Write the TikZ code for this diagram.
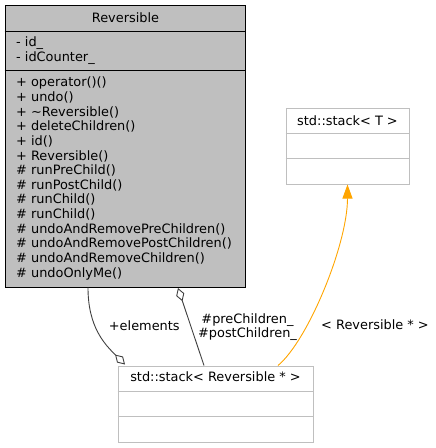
\documentclass[tikz,border=0pt]{standalone}
\usepackage{fontspec}
\setmainfont{DejaVu Sans}
\usetikzlibrary{arrows.meta,positioning}
\definecolor{revgray}{RGB}{191,191,191}
\definecolor{boxgray}{RGB}{191,191,191}
\definecolor{edgegray}{RGB}{64,64,64}
\definecolor{inhorange}{RGB}{255,165,0}
\newcommand{\dvfont}{\fontsize{12.9}{14.66}\selectfont}

\begin{document}
\begin{tikzpicture}[x=1pt,y=-1pt]
        \tikzset{cls/.style= {draw=boxgray, fill=white, rectangle, inner sep=0pt, line width=1pt},
        rcls/.style= {cls, draw=black, fill=revgray},
        member/.style={anchor=base west, inner sep=0pt, font=\dvfont},
        head/.style={anchor=base, inner sep=0pt, font=\dvfont},
        elabel/.style={inner sep=0pt, align=center, font=\dvfont},
        link/.style={draw=edgegray, line width=0.9pt},
        hollow/.style={-{Diamond[open, length=14pt, width=8.5pt]}},
        }
        \useasboundingbox (0,0) rectangle (436,448);
        \node [rcls, minimum width=240pt, minimum height=282pt] (rev) at (125,146) {};
        \node [cls, minimum width=123pt, minimum height=76pt] (stackT) at (347.5,146) {};
        \node [cls, minimum width=195pt, minimum height=76pt] (stackR) at (215.5,404) {};
%%% compartments
        \draw[line width=1pt] ([yshift=-26.5pt]rev.north west) -- ([yshift=-26.5pt]rev.north east)
                    ([yshift=-65.5pt]rev.north west) -- ([yshift=-65.5pt]rev.north east);
        \draw[boxgray, line width=1pt] ([yshift=-25.5pt]stackT.north west) -- ([yshift=-25.5pt]stackT.north east)
                    ([yshift=-50.5pt]stackT.north west) -- ([yshift=-50.5pt]stackT.north east)
                    ([yshift=-25.5pt]stackR.north west) -- ([yshift=-25.5pt]stackR.north east)
                    ([yshift=-50.5pt]stackR.north west) -- ([yshift=-50.5pt]stackR.north east);
%%% texts
        \node [head] (rev_name) at (125.5,22) {Reversible};
        \node [head] (stackT_name) at (347.5,125) {std::stack< T >};
        \node [head] (stackR_name) at (215.5,381) {std::stack< Reversible * >};
        \foreach \m [count=\i from 0] in {- id\_, - idCounter\_}
            \node [member] (attr\i) at (16,{46.7+14.66*\i}) {\m};
        \foreach \m [count=\i from 0] in {+ operator()(), + undo(), + \textasciitilde Reversible(),
            + deleteChildren(), + id(), + Reversible(), \# runPreChild(), \# runPostChild(),
            \# runChild(), \# runChild(), \# undoAndRemovePreChildren(),
            \# undoAndRemovePostChildren(), \# undoAndRemoveChildren(), \# undoOnlyMe()}
            \node [member] (meth\i) at (16,{86.7+14.66*\i}) {\m};
%%% paths
        \draw[link, hollow] ([xshift=-37pt]rev.south) .. controls +(0,40) and +(-20,-20) .. ([xshift=-90.5pt, yshift=1pt]stackR.north);
        \draw[link, hollow] ([xshift=-11.5pt]stackR.north) -- ([xshift=53pt, yshift=-0.5pt]rev.south);
        \draw[inhorange, line width=0.9pt, -{Triangle[length=14pt, width=10pt]}]
                    ([xshift=62.5pt]stackR.north) .. controls +(30,-25) and +(0,60) .. (stackT.south);
        \node [head] (elem_lbl) at (144.3,330) {+elements};
        \node [elabel] (child_lbl) at (247.5,327) {\#preChildren\_\\\#postChildren\_};
        \node [head] (tmpl_lbl) at (375,329.5) {< Reversible * >};
\end{tikzpicture}
\end{document}
